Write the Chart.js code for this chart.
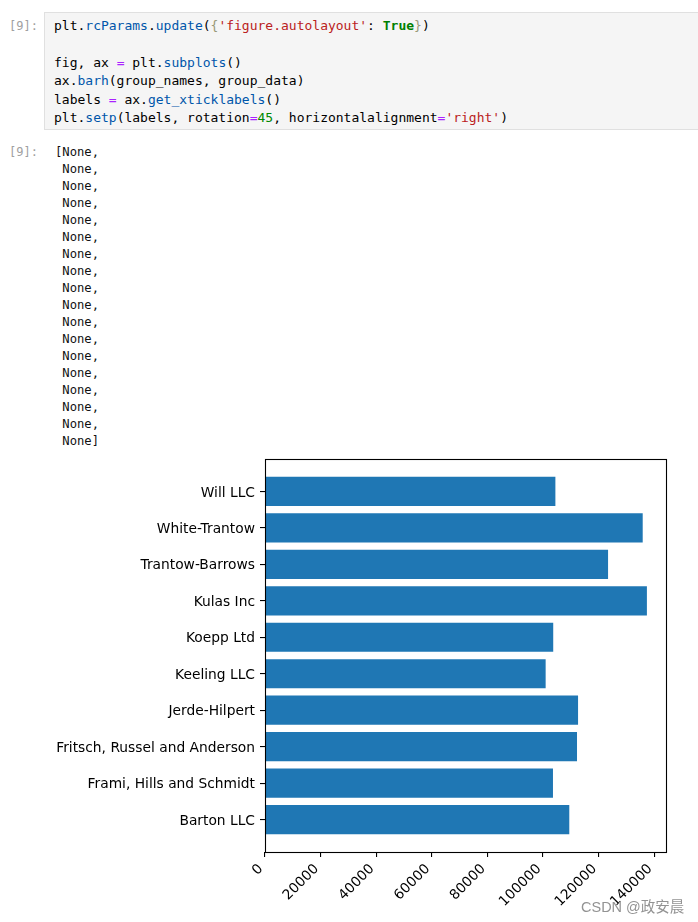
<!DOCTYPE html>
<html>
<head>
<meta charset="utf-8">
<script src="https://cdn.jsdelivr.net/npm/chart.js@4.4.1/dist/chart.umd.min.js"></script>
<style>
  html, body { margin: 0; padding: 0; background: #fff; width: 698px; height: 922px; overflow: hidden; }
  .prompt { position: absolute; left: 9px; font-family: "DejaVu Sans Mono", monospace; font-size: 12px; color: #a0a0a0; }
  .cell { position: absolute; left: 44px; top: 12px; width: 680px; height: 118px; background: #f5f5f5; border: 1px solid #e0e0e0; box-sizing: border-box; }
  pre.code { position: absolute; left: 54px; top: 17px; margin: 0; font-family: "DejaVu Sans Mono", monospace; font-size: 13px; line-height: 18.4px; color: #000; }
  pre.out { position: absolute; left: 55px; top: 143.5px; margin: 0; font-family: "DejaVu Sans Mono", monospace; font-size: 12.2px; line-height: 17px; color: #111; }
  .p { color: #0055aa; }
  .s { color: #ba2121; }
  .k { color: #008000; font-weight: bold; }
  .o { color: #aa22ff; }
  .n { color: #008800; }
  .b { color: #999977; }
  #wrap { position: absolute; left: 0; top: 450px; width: 698px; height: 472px; }
  #c { display: block; width: 698px; height: 472px; }
  .wm { position: absolute; left: 581px; top: 895px; font-family: "Liberation Sans", "Noto Sans CJK SC", sans-serif; font-size: 14.5px; color: #939393; text-shadow: 0 0 2px #fff, 0 0 1px #fff; white-space: nowrap; }
</style>
</head>
<body>
<div class="prompt" style="top:19px;">[9]:</div>
<div class="cell"></div>
<pre class="code">plt.<span class="p">rcParams</span>.<span class="p">update</span>(<span class="b">{</span><span class="s">'figure.autolayout'</span>: <span class="k">True</span><span class="b">}</span>)

fig, ax <span class="o">=</span> plt.<span class="p">subplots</span>()
ax.<span class="p">barh</span>(group_names, group_data)
labels <span class="o">=</span> ax.<span class="p">get_xticklabels</span>()
plt.<span class="p">setp</span>(labels, rotation<span class="o">=</span><span class="n">45</span>, horizontalalignment<span class="o">=</span><span class="s">'right'</span>)</pre>
<div class="prompt" style="top:145px;">[9]:</div>
<pre class="out" id="out"></pre>
<div id="wrap"><canvas id="c" width="698" height="472"></canvas></div>
<div class="wm">CSDN @政安晨</div>
<script>
// ---- data ----
const groupNames = ['Barton LLC', 'Frami, Hills and Schmidt', 'Fritsch, Russel and Anderson',
  'Jerde-Hilpert', 'Keeling LLC', 'Koepp Ltd', 'Kulas Inc', 'Trantow-Barrows',
  'White-Trantow', 'Will LLC'];
const groupData = [109438.50, 103569.59, 112214.71, 112591.43, 100934.30,
  103660.54, 137351.96, 123381.38, 135841.99, 104437.60];
const xTickValues = [0, 20000, 40000, 60000, 80000, 100000, 120000, 140000];
const outputLines = 18;

// notebook output text
const lines = [];
for (let i = 0; i < outputLines; i++) {
  lines.push((i === 0 ? '[' : ' ') + 'None' + (i === outputLines - 1 ? ']' : ','));
}
document.getElementById('out').textContent = lines.join('\n');

// axis limits like matplotlib autoscale (5% margins)
const xMax = Math.max(...groupData) * 1.05;
const yMin = -0.4 - 0.05 * (groupNames.length - 1 + 0.8);
const yMax = groupNames.length - 1 + 0.4 + 0.05 * (groupNames.length - 1 + 0.8);

const framePlugin = {
  id: 'frame',
  afterDraw(chart) {
    const a = chart.chartArea, ctx = chart.ctx;
    ctx.save();
    ctx.strokeStyle = '#000';
    ctx.lineWidth = 1.1;
    ctx.strokeRect(Math.round(a.left) + 0.5, Math.round(a.top) + 0.5,
      Math.round(a.right - a.left), Math.round(a.bottom - a.top));
    ctx.restore();
  }
};

const tickFont = { family: 'DejaVu Sans', size: 13.8 };

new Chart(document.getElementById('c'), {
  type: 'bar',
  data: {
    datasets: [{
      data: groupData.map((v, i) => ({ x: v, y: i })),
      backgroundColor: '#1f77b4',
      borderWidth: 0,
      categoryPercentage: 1.0,
      barPercentage: 0.8
    }]
  },
  options: {
    indexAxis: 'y',
    responsive: false,
    animation: false,
    devicePixelRatio: 1,
    layout: { padding: { top: 9, right: 32, left: 0, bottom: 0 } },
    plugins: { legend: { display: false }, tooltip: { enabled: false } },
    scales: {
      x: {
        type: 'linear',
        min: 0,
        max: xMax,
        offset: false,
        afterBuildTicks: (s) => { s.ticks = xTickValues.map(v => ({ value: v })); },
        afterFit: (s) => { s.height = 70; s.paddingLeft = 0; s.paddingRight = 0; },
        border: { display: false },
        grid: { offset: false, drawOnChartArea: false, drawTicks: true, tickLength: 5, color: '#000', lineWidth: 1.1 },
        ticks: {
          color: '#000', font: tickFont, padding: 4, labelOffset: -4,
          minRotation: 45, maxRotation: 45, autoSkip: false,
          callback: (v) => String(v)
        }
      },
      y: {
        type: 'linear',
        min: yMin,
        max: yMax,
        offset: false,
        afterBuildTicks: (s) => { s.ticks = groupNames.map((_, i) => ({ value: i })); },
        afterFit: (s) => { s.width = 265; s.paddingTop = 0; s.paddingBottom = 0; },
        border: { display: false },
        grid: { offset: false, drawOnChartArea: false, drawTicks: true, tickLength: 5, color: '#000', lineWidth: 1.1 },
        ticks: {
          color: '#000', font: tickFont, padding: 5, labelOffset: 1.5, autoSkip: false,
          callback: (v) => groupNames[v]
        }
      }
    }
  },
  plugins: [framePlugin]
});
</script>
</body>
</html>
